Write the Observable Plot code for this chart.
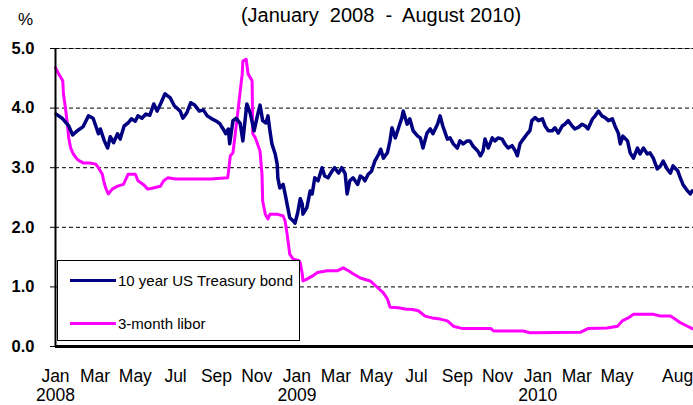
<!DOCTYPE html>
<html><head><meta charset="utf-8">
<script src="https://cdn.jsdelivr.net/npm/d3@7"></script>
<script src="https://cdn.jsdelivr.net/npm/@observablehq/plot@0.6"></script>
<style>
body{margin:0;background:#fff;font-family:Arial,"Liberation Sans",sans-serif;}
#wrap{position:relative;width:693px;height:405px;overflow:hidden;background:#fff}
#title{position:absolute;left:381px;top:5px;transform:translateX(-50%);font-size:20px;line-height:1;white-space:pre;color:#000}
#pct{position:absolute;left:18px;top:11px;font-size:17px;line-height:1;color:#000}
#legend{position:absolute;left:57px;top:260px;width:243px;height:81px;border:1.5px solid #000;background:#fff;box-sizing:border-box}
.li{position:absolute;left:12px;height:18px;display:flex;align-items:center;font-size:15px;white-space:nowrap;color:#000}
.sw{display:inline-block;width:46px;height:3px;margin-right:2px}
</style></head><body>
<div id="wrap"><div id="chart"></div>
<div id="title">(January  2008  -  August 2010)</div>
<div id="pct">%</div>
<div id="legend"></div>
</div>
<script>
const bondDates = ["2008-01-02","2008-01-11","2008-01-21","2008-01-27","2008-02-03","2008-02-12","2008-02-20","2008-02-27","2008-03-03","2008-03-06","2008-03-09","2008-03-15","2008-03-20","2008-03-24","2008-03-29","2008-04-04","2008-04-08","2008-04-14","2008-04-20","2008-04-25","2008-05-01","2008-05-05","2008-05-11","2008-05-17","2008-05-23","2008-05-29","2008-06-03","2008-06-09","2008-06-15","2008-06-23","2008-06-29","2008-07-08","2008-07-12","2008-07-18","2008-07-24","2008-07-30","2008-08-06","2008-08-12","2008-08-18","2008-08-25","2008-09-01","2008-09-06","2008-09-11","2008-09-15","2008-09-19","2008-09-21","2008-09-26","2008-10-01","2008-10-07","2008-10-11","2008-10-17","2008-10-22","2008-10-28","2008-11-03","2008-11-06","2008-11-10","2008-11-15","2008-11-18","2008-11-21","2008-11-24","2008-11-29","2008-12-02","2008-12-03","2008-12-06","2008-12-11","2008-12-14","2008-12-17","2008-12-21","2008-12-26","2008-12-29","2009-01-02","2009-01-06","2009-01-09","2009-01-10","2009-01-16","2009-01-21","2009-01-24","2009-01-28","2009-02-02","2009-02-08","2009-02-12","2009-02-17","2009-02-23","2009-02-27","2009-03-05","2009-03-10","2009-03-15","2009-03-18","2009-03-22","2009-03-27","2009-04-03","2009-04-07","2009-04-11","2009-04-14","2009-04-19","2009-04-24","2009-04-29","2009-05-05","2009-05-08","2009-05-12","2009-05-18","2009-05-22","2009-05-25","2009-05-30","2009-06-04","2009-06-09","2009-06-11","2009-06-17","2009-06-21","2009-06-26","2009-07-03","2009-07-07","2009-07-11","2009-07-17","2009-07-22","2009-07-26","2009-08-02","2009-08-06","2009-08-10","2009-08-17","2009-08-21","2009-08-26","2009-09-01","2009-09-05","2009-09-10","2009-09-16","2009-09-20","2009-09-25","2009-10-02","2009-10-06","2009-10-10","2009-10-13","2009-10-18","2009-10-24","2009-10-28","2009-11-02","2009-11-08","2009-11-12","2009-11-17","2009-11-23","2009-11-28","2009-12-01","2009-12-05","2009-12-10","2009-12-16","2009-12-20","2009-12-23","2009-12-28","2010-01-02","2010-01-08","2010-01-12","2010-01-17","2010-01-23","2010-01-27","2010-02-01","2010-02-07","2010-02-11","2010-02-16","2010-02-22","2010-02-26","2010-03-04","2010-03-09","2010-03-14","2010-03-18","2010-03-25","2010-03-29","2010-04-03","2010-04-08","2010-04-13","2010-04-18","2010-04-24","2010-04-28","2010-05-03","2010-05-06","2010-05-10","2010-05-17","2010-05-21","2010-05-26","2010-06-01","2010-06-05","2010-06-10","2010-06-16","2010-06-20","2010-06-25","2010-07-01","2010-07-06","2010-07-10","2010-07-16","2010-07-21","2010-07-25","2010-08-01","2010-08-05","2010-08-09","2010-08-16","2010-08-20","2010-08-23"];
const bondValues = [3.90,3.83,3.70,3.55,3.62,3.69,3.87,3.83,3.67,3.57,3.65,3.45,3.33,3.52,3.42,3.57,3.48,3.70,3.75,3.82,3.78,3.87,3.83,3.90,3.88,4.07,3.95,4.09,4.24,4.17,4.04,3.95,3.83,3.92,4.09,4.05,3.95,3.97,3.87,3.82,3.78,3.74,3.65,3.57,3.65,3.40,3.79,3.83,3.74,3.45,4.07,3.92,3.62,3.92,4.05,3.79,3.75,3.87,3.62,3.40,3.23,3.06,2.83,2.66,2.72,2.56,2.39,2.16,2.11,2.07,2.24,2.48,2.39,2.22,2.33,2.61,2.56,2.83,2.78,3.00,2.86,2.83,2.94,3.00,2.91,3.00,2.90,2.56,2.78,2.83,2.72,2.86,2.83,2.78,2.89,2.94,3.11,3.23,3.31,3.16,3.25,3.45,3.67,3.50,3.67,3.84,3.95,3.73,3.82,3.62,3.53,3.50,3.33,3.58,3.65,3.57,3.73,3.87,3.70,3.48,3.50,3.40,3.33,3.45,3.40,3.45,3.45,3.36,3.28,3.20,3.28,3.48,3.33,3.50,3.45,3.50,3.48,3.40,3.33,3.37,3.28,3.20,3.40,3.48,3.57,3.62,3.79,3.84,3.79,3.82,3.70,3.62,3.62,3.67,3.58,3.70,3.73,3.79,3.70,3.65,3.68,3.73,3.70,3.65,3.82,3.87,3.95,3.87,3.84,3.79,3.82,3.70,3.58,3.40,3.53,3.45,3.25,3.16,3.33,3.23,3.33,3.23,3.25,3.16,2.98,3.03,3.11,2.98,2.91,3.03,2.95,2.83,2.72,2.61,2.56,2.61];

const liborDates = ["2008-01-01","2008-01-06","2008-01-12","2008-01-13","2008-01-16","2008-01-19","2008-01-21","2008-01-24","2008-01-28","2008-02-03","2008-02-07","2008-02-12","2008-02-22","2008-03-02","2008-03-06","2008-03-12","2008-03-14","2008-03-17","2008-03-21","2008-03-27","2008-04-04","2008-04-13","2008-04-20","2008-05-01","2008-05-05","2008-05-13","2008-05-20","2008-05-28","2008-06-08","2008-06-13","2008-06-19","2008-07-01","2008-08-23","2008-09-18","2008-09-22","2008-09-26","2008-10-03","2008-10-07","2008-10-10","2008-10-11","2008-10-16","2008-10-19","2008-10-25","2008-10-26","2008-10-30","2008-11-06","2008-11-09","2008-11-10","2008-11-14","2008-11-18","2008-11-21","2008-12-02","2008-12-11","2008-12-14","2008-12-17","2008-12-21","2008-12-26","2009-01-04","2009-01-06","2009-01-09","2009-01-10","2009-01-16","2009-01-24","2009-02-01","2009-02-16","2009-03-03","2009-03-12","2009-03-20","2009-03-27","2009-04-07","2009-04-22","2009-05-03","2009-05-12","2009-05-18","2009-05-22","2009-06-04","2009-06-14","2009-06-25","2009-07-04","2009-07-14","2009-07-25","2009-08-06","2009-08-17","2009-08-26","2009-09-09","2009-10-22","2009-10-26","2009-12-10","2009-12-20","2010-03-07","2010-03-18","2010-04-16","2010-05-02","2010-05-09","2010-05-18","2010-05-26","2010-06-25","2010-07-06","2010-07-21","2010-07-28","2010-08-05","2010-08-16","2010-08-23"];
const liborValues = [4.68,4.57,4.46,4.24,4.01,3.73,3.50,3.33,3.23,3.14,3.11,3.08,3.08,3.06,3.00,2.89,2.78,2.66,2.56,2.64,2.69,2.72,2.89,2.89,2.78,2.72,2.64,2.66,2.69,2.78,2.83,2.81,2.81,2.83,3.20,3.25,3.90,4.29,4.57,4.79,4.82,4.57,4.46,3.57,3.50,3.28,2.89,2.44,2.22,2.14,2.22,2.22,2.19,2.11,1.89,1.55,1.47,1.44,1.40,1.22,1.10,1.13,1.18,1.24,1.27,1.27,1.32,1.27,1.22,1.15,1.10,0.99,0.90,0.80,0.66,0.65,0.63,0.62,0.60,0.51,0.48,0.46,0.43,0.34,0.30,0.30,0.26,0.26,0.23,0.24,0.30,0.31,0.34,0.43,0.48,0.54,0.54,0.51,0.51,0.46,0.40,0.34,0.30];

const yTicks = [0, 1, 2, 3, 4, 5];
const gridValues = [1, 2, 3, 4, 5];
const xTickDates = ["2008-01-01","2008-03-01","2008-05-01","2008-07-01","2008-09-01","2008-11-01","2009-01-01","2009-03-01","2009-05-01","2009-07-01","2009-09-01","2009-11-01","2010-01-01","2010-03-01","2010-05-01","2010-08-01"];
const xTickLabels = ["Jan\n2008","Mar","May","Jul","Sep","Nov","Jan\n2009","Mar","May","Jul","Sep","Nov","Jan\n2010","Mar","May","Aug"];
const xDomain = ["2008-01-01","2010-08-25"];
const seriesNames = ["10 year US Treasury bond","3-month libor"];
const seriesColors = ["#000080","#FF00FF"];

const parse = d3.utcParse("%Y-%m-%d");
const bond = bondDates.map((d, i) => ({date: parse(d), value: bondValues[i]}));
const libor = liborDates.map((d, i) => ({date: parse(d), value: liborValues[i]}));
const tickDates = xTickDates.map(parse);
const labelMap = new Map(tickDates.map((d, i) => [+d, xTickLabels[i]]));
const dom = xDomain.map(parse);

const chart = Plot.plot({
  width: 693, height: 405,
  marginLeft: 55, marginRight: 0, marginTop: 48, marginBottom: 59,
  style: {fontFamily: "Arial, 'Liberation Sans', sans-serif", background: "white", color: "#000", overflow: "visible"},
  x: {type: "utc", domain: dom},
  y: {domain: [0, 5]},
  marks: [
    Plot.ruleY([5], {stroke: "#777", strokeWidth: 1}),
    Plot.ruleY(gridValues, {stroke: "#000", strokeWidth: 1, strokeDasharray: "4,3"}),
    Plot.line(libor, {x: "date", y: "value", stroke: seriesColors[1], strokeWidth: 3}),
    Plot.line(bond, {x: "date", y: "value", stroke: seriesColors[0], strokeWidth: 3.5}),
    Plot.ruleX([dom[0]], {stroke: "#000", strokeWidth: 2}),
    Plot.ruleY([0], {stroke: "#000", strokeWidth: 3}),
    Plot.axisY({ticks: yTicks, tickFormat: d => d.toFixed(1), tickSize: 5, tickPadding: 16, fontSize: 16.5, fontWeight: "bold", label: null, stroke: "#000"}),
    Plot.axisX({ticks: tickDates, tickFormat: d => labelMap.get(+d), tickSize: 0, tickPadding: 21, fontSize: 17.5, lineHeight: 1.13, label: null})
  ]
});
document.getElementById("chart").appendChild(chart);

const legend = document.getElementById("legend");
seriesNames.forEach((name, i) => {
  const row = document.createElement("div");
  row.className = "li";
  row.style.top = (i === 0 ? 10 : 53) + "px";
  const sw = document.createElement("span");
  sw.className = "sw";
  sw.style.background = seriesColors[i];
  row.appendChild(sw);
  row.appendChild(document.createTextNode(name));
  legend.appendChild(row);
});
</script>
</body></html>
